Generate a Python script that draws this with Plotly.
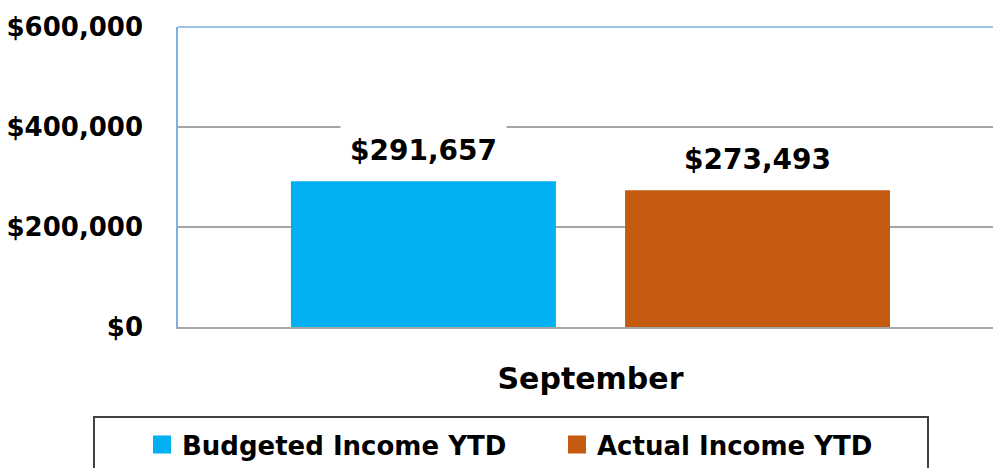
import plotly.graph_objects as go

categories = ["September"]
series_names = ["Budgeted Income YTD", "Actual Income YTD"]
budgeted = [291657]
actual = [273493]
colors = ["#00B0F0", "#C55A11"]
y_ticks = [0, 200000, 400000, 600000]
y_tick_labels = ["$0", "$200,000", "$400,000", "$600,000"]

FONT = "DejaVu Sans"
W, H = 993, 468
ML, MR, MT, MB = 178, 0, 27, 141

fig = go.Figure()
for name, vals, col in zip(series_names, [budgeted, actual], colors):
    fig.add_trace(go.Bar(x=categories, y=vals, name=name, marker_color=col,
                         marker_line_width=0, showlegend=False))
# legend entries with larger square symbols
for name, col in zip(series_names, colors):
    fig.add_trace(go.Scatter(x=[None], y=[None], mode="markers", name=name,
                             marker=dict(symbol="square", size=16, color=col,
                                         line=dict(color=col, width=2)),
                             showlegend=True))

# value labels with white background boxes
shifts = [-167, 167]
for vals, xs in zip([budgeted, actual], shifts):
    for c, v in zip(categories, vals):
        fig.add_annotation(x=c, y=v, text=f"${v:,.0f}", showarrow=False,
                           xshift=xs, yanchor="bottom", yshift=4,
                           bgcolor="white", borderpad=9,
                           font=dict(family=FONT, size=28, color="black", weight="bold"))

pw = W - ML - MR
ph = H - MT - MB
plot_bottom = H - MB
# top border of plot area
fig.add_shape(type="line", xref="paper", yref="paper", x0=0, x1=1, y0=1, y1=1,
              line=dict(color="#7EB0E0", width=1.5))
# legend box
fig.add_shape(type="rect", xref="paper", yref="paper",
              x0=(94 - ML) / pw, x1=(928 - ML) / pw,
              y0=(plot_bottom - 480) / ph, y1=(plot_bottom - 417) / ph,
              line=dict(color="#404040", width=2), fillcolor="rgba(0,0,0,0)")

fig.update_layout(
    width=W, height=H,
    margin=dict(l=ML, r=MR, t=MT, b=MB, pad=0, autoexpand=False),
    paper_bgcolor="white", plot_bgcolor="white",
    barmode="group", bargap=0.19, bargroupgap=0.207,
    font=dict(family=FONT, color="black"),
    legend=dict(orientation="h", x=(142 - ML) / pw, xanchor="left",
                y=(plot_bottom - 421) / ph, yanchor="top",
                font=dict(family=FONT, size=26, color="black", weight="bold"),
                entrywidth=370, entrywidthmode="pixels",
                borderwidth=0, bgcolor="rgba(0,0,0,0)"),
    showlegend=True,
)
fig.update_xaxes(range=[-0.5, 0.4879], showline=True, linecolor="#A6A6A6", linewidth=1.5,
                 showgrid=False, ticks="", ticklabelstandoff=24, automargin=False,
                 tickfont=dict(family=FONT, size=30, color="black", weight="bold"))
fig.update_yaxes(range=[0, 600000], tickvals=y_ticks, ticktext=y_tick_labels,
                 showline=True, linecolor="#7EB0E0", linewidth=1.5,
                 showgrid=True, gridcolor="#A6A6A6", gridwidth=1.5, zeroline=False,
                 ticks="", ticklabelstandoff=28, automargin=False,
                 tickfont=dict(family=FONT, size=26, color="black", weight="bold"))

fig.write_html("out.html", config={"displayModeBar": False},
               post_script="document.body.style.margin='0';")
